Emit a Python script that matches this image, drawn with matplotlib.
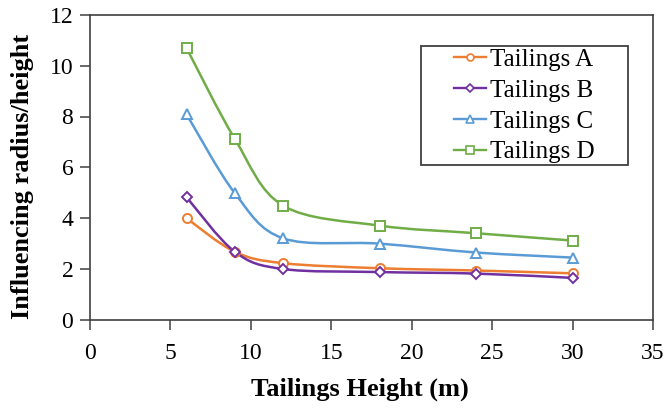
import numpy as np
import matplotlib
matplotlib.use("Agg")
import matplotlib.pyplot as plt
from matplotlib.path import Path
from matplotlib.patches import PathPatch, Rectangle
from matplotlib.lines import Line2D

plt.rcParams['font.family'] = ['Liberation Serif', 'DejaVu Serif']

heights = [6, 9, 12, 18, 24, 30]
tailings_a = [3.99, 2.67, 2.22, 2.02, 1.93, 1.82]
tailings_b = [4.82, 2.67, 1.99, 1.87, 1.81, 1.64]
tailings_c = [8.09, 4.98, 3.20, 2.99, 2.64, 2.44]
tailings_d = [10.70, 7.12, 4.49, 3.70, 3.40, 3.11]
names = ["Tailings A", "Tailings B", "Tailings C", "Tailings D"]

series = [tailings_a, tailings_b, tailings_c, tailings_d]
colors = ["#ED7D31", "#7030A0", "#5B9BD5", "#70AD47"]
markers = ["o", "D", "^", "s"]
msizes = [6.5, 5.5, 7, 7]


def smooth_path(x, y):
    # Excel-like smoothed line: Catmull-Rom segments as cubic Bezier curves
    p = np.column_stack([x, y]).astype(float)
    n = len(p)
    verts = [p[0]]
    codes = [Path.MOVETO]
    for i in range(n - 1):
        p0 = p[i - 1] if i > 0 else p[i]
        p3 = p[i + 2] if i + 2 < n else p[i + 1]
        c1 = p[i] + (p[i + 1] - p0) / 6
        c2 = p[i + 1] - (p3 - p[i]) / 6
        verts += [c1, c2, p[i + 1]]
        codes += [Path.CURVE4] * 3
    return Path(verts, codes)


fig = plt.figure(figsize=(6.67, 4.08), dpi=100)
ax = fig.add_axes([90 / 667, 1 - 319.5 / 408, 563 / 667, 304.5 / 408])

handles = []
for vals, c, m, ms, name in zip(series, colors, markers, msizes, names):
    ax.add_patch(PathPatch(smooth_path(heights, vals), fill=False,
                           edgecolor=c, lw=1.8, zorder=2))
    ax.plot(heights, vals, ls='none', marker=m, ms=ms, mfc='white',
            mec=c, mew=1.4, zorder=3)
    handles.append(Line2D([], [], color=c, lw=1.7, marker=m, ms=ms - 1.5,
                          mfc='white', mec=c, mew=1.2, label=name))

ax.set_xlim(0, 35)
ax.set_ylim(0, 12)
ax.set_xticks(range(0, 36, 5))
ax.set_yticks(range(0, 13, 2))
ax.tick_params(direction='out', length=7, width=1.1, labelsize=17,
               color='#404040', pad=5)
ax.tick_params(axis='x', pad=10)
for s in ax.spines.values():
    s.set_color('#404040')
    s.set_linewidth(1.2)

ax.set_xlabel("Tailings Height (m)", fontsize=19, fontweight='bold')
ax.set_ylabel("Influencing radius/height", fontsize=19, fontweight='bold')
ax.xaxis.set_label_coords(0.48, -0.19)
ax.yaxis.set_label_coords(-0.10, 0.47)

# legend box drawn separately to get the wide side padding
ax.add_patch(Rectangle((421 / 667, 1 - 165 / 408), 207 / 667, 119 / 408,
                       transform=fig.transFigure, facecolor='white',
                       edgecolor='#404040', lw=1.3, zorder=4, clip_on=False))
leg = ax.legend(handles=handles, loc='center',
                bbox_to_anchor=(524 / 667, 1 - 106 / 408),
                bbox_transform=fig.transFigure, borderaxespad=0,
                fontsize=18, frameon=False,
                handlelength=1.3, handletextpad=0.15, labelspacing=0.33,
                borderpad=0)
leg.set_zorder(5)

fig.savefig("out.png", dpi=100)
